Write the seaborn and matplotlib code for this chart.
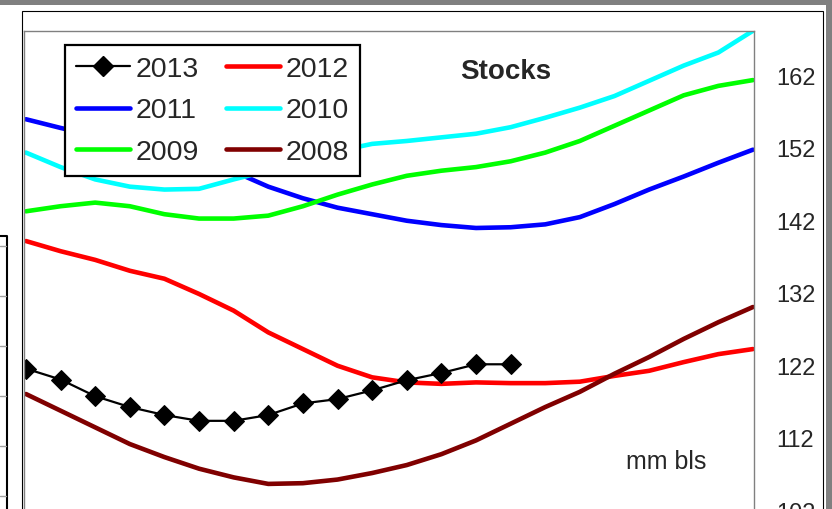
import pandas as pd
import matplotlib.pyplot as plt
import seaborn as sns
from matplotlib.lines import Line2D
from matplotlib.patches import Rectangle

# weekly stocks, mm bls
weeks = list(range(22))
stocks_2013 = [121.5, 120.0, 117.7, 116.2, 115.1, 114.3, 114.3, 115.1, 116.7, 117.3,
               118.5, 119.9, 120.9, 122.1, 122.1]
stocks_2012 = [139.1, 137.7, 136.5, 135.0, 133.9, 131.8, 129.5, 126.5, 124.2, 121.9, 120.3,
               119.6, 119.4, 119.6, 119.5, 119.5, 119.7, 120.5, 121.2, 122.4, 123.5, 124.2]
stocks_2011 = [155.9, 154.7, 153.6, 152.5, 151.4, 150.1, 148.7, 146.6, 145.0, 143.7, 142.8,
               141.9, 141.3, 140.9, 141.0, 141.4, 142.4, 144.2, 146.2, 148.0, 149.9, 151.7]
stocks_2010 = [151.3, 149.3, 147.6, 146.6, 146.2, 146.3, 147.6, 148.8, 150.3, 151.5, 152.5,
               152.9, 153.4, 153.9, 154.8, 156.1, 157.5, 159.1, 161.2, 163.3, 165.1, 168.1]
stocks_2009 = [143.2, 143.9, 144.4, 143.9, 142.8, 142.2, 142.2, 142.6, 143.9, 145.5, 146.9,
               148.1, 148.8, 149.3, 150.1, 151.3, 152.9, 155.0, 157.1, 159.2, 160.5, 161.3]
stocks_2008 = [118.0, 115.7, 113.4, 111.1, 109.3, 107.7, 106.5, 105.6, 105.7, 106.2, 107.1,
               108.2, 109.7, 111.6, 113.9, 116.2, 118.3, 120.8, 123.1, 125.6, 127.9, 130.0]
y_ticks = [102, 112, 122, 132, 142, 152, 162]

years = ['2012', '2011', '2010', '2009', '2008']
colors = {'2013': '#000000', '2012': '#FF0000', '2011': '#0000FF',
          '2010': '#00FFFF', '2009': '#00FF00', '2008': '#800000'}

series = [stocks_2012, stocks_2011, stocks_2010, stocks_2009, stocks_2008]
frames = [pd.DataFrame({'week': weeks, 'stocks': s, 'year': y}) for y, s in zip(years, series)]
df = pd.concat(frames, ignore_index=True)

sns.set_style("white")
plt.rcParams['font.family'] = ['Liberation Sans', 'DejaVu Sans']

W, H = 832, 510
fig = plt.figure(figsize=(W / 100, H / 100), dpi=100)

def fx(px):
    return px / W

def fy(py):
    return 1 - py / H

# plot area (extends below the visible crop)
ymin, ymax = 98.0, 168.07
px_per_unit = 7.25
ax_h = (ymax - ymin) * px_per_unit
ax = fig.add_axes([fx(23.5), (H - 32 - ax_h) / H, (754 - 23.5) / W, ax_h / H])

sns.lineplot(data=df, x='week', y='stocks', hue='year', hue_order=years,
             palette=colors, linewidth=3.3, legend=False, sort=False, ax=ax)
sns.lineplot(x=weeks[:len(stocks_2013)], y=stocks_2013, color='black', linewidth=1.6,
             marker='D', markersize=10, markeredgecolor='black', legend=False, ax=ax)

ax.set_xlim(-0.07, 21.03)
ax.set_ylim(ymin, ymax)
ax.set_xticks([])
ax.set_yticks(y_ticks)
ax.yaxis.tick_right()
ax.tick_params(axis='y', length=0, pad=16, labelsize=17)
ax.set_xlabel('')
ax.set_ylabel('')
for side in ['left', 'top', 'right']:
    ax.spines[side].set_color('#808080')
    ax.spines[side].set_linewidth(1)
ax.spines['bottom'].set_visible(False)

# legend
order = ['2013', '2011', '2009', '2012', '2010', '2008']
handles = []
for y in order:
    if y == '2013':
        handles.append(Line2D([], [], color='black', lw=1.6, marker='D', markersize=10))
    else:
        handles.append(Line2D([], [], color=colors[y], lw=3.3))
leg = fig.legend(handles, order, loc='upper left', bbox_to_anchor=(fx(65), fy(46)),
                 ncol=2, fontsize=20.5, frameon=True, fancybox=False, framealpha=1,
                 edgecolor='black', borderpad=0.38, labelspacing=0.55,
                 handlelength=1.9, handletextpad=0.2, columnspacing=0.95,
                 borderaxespad=0)
leg.get_frame().set_linewidth(1.6)

# texts
fig.text(fx(506), fy(72), 'Stocks', fontsize=20, fontweight='bold', ha='center', va='center')
fig.text(fx(666), fy(462), 'mm bls', fontsize=18, ha='center', va='center')

# outer chart frame and grey window border
fig.add_artist(Rectangle((fx(21.5), fy(560)), fx(823) - fx(21.5), fy(12) - fy(560),
                         transform=fig.transFigure, fill=False, edgecolor='black', lw=0.8))
fig.add_artist(Rectangle((0, fy(6)), 1, 6 / H, transform=fig.transFigure,
                         color='#808080', lw=0))
fig.add_artist(Rectangle((fx(826), 0), 6 / W, 1, transform=fig.transFigure,
                         color='#808080', lw=0))

# edge of the neighbouring chart on the left
fig.add_artist(Line2D([0, fx(6.5), fx(6.5)], [fy(237), fy(237), fy(520)],
                      transform=fig.transFigure, color='black', lw=1.5))
for gy in [247, 297, 347, 397, 447, 497]:
    fig.add_artist(Line2D([0, fx(6)], [fy(gy), fy(gy)], transform=fig.transFigure,
                          color='#a0a0a0', lw=1))

plt.savefig('out.png', dpi=100)
